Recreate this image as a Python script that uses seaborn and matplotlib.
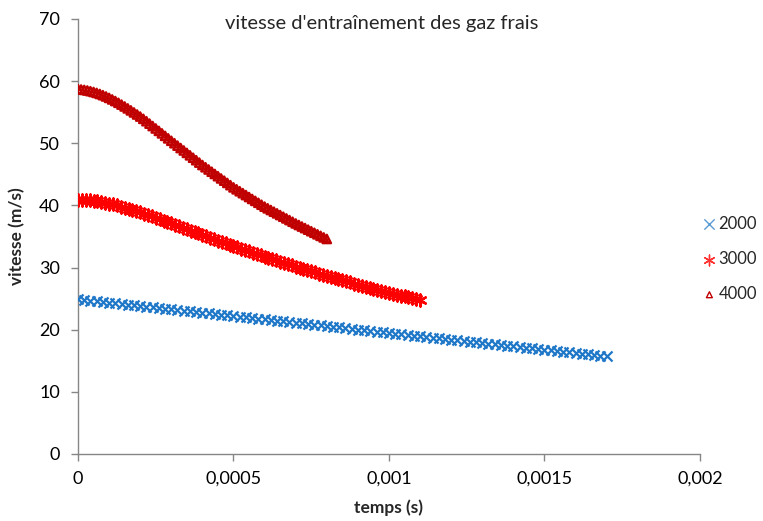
import numpy as np
import pandas as pd
import matplotlib
matplotlib.use("Agg")
import matplotlib.pyplot as plt
import seaborn as sns

# Entrainment velocity of the fresh gases (m/s) for three engine speeds (rpm)
v_2000 = [
    24.90, 24.79, 24.68, 24.58, 24.47, 24.36, 24.25, 24.14, 24.03, 23.93,
    23.82, 23.71, 23.60, 23.49, 23.39, 23.28, 23.17, 23.06, 22.95, 22.84,
    22.74, 22.63, 22.52, 22.41, 22.30, 22.20, 22.09, 21.98, 21.87, 21.76,
    21.65, 21.55, 21.44, 21.33, 21.22, 21.11, 21.00, 20.90, 20.79, 20.68,
    20.57, 20.46, 20.36, 20.25, 20.14, 20.03, 19.92, 19.81, 19.71, 19.60,
    19.49, 19.38, 19.27, 19.17, 19.06, 18.95, 18.84, 18.73, 18.62, 18.52,
    18.41, 18.30, 18.19, 18.08, 17.98, 17.87, 17.76, 17.65, 17.54, 17.43,
    17.33, 17.22, 17.11, 17.00, 16.89, 16.79, 16.68, 16.57, 16.46, 16.35,
    16.24, 16.14, 16.03, 15.92, 15.81, 15.70,
]
v_3000 = [
    40.90, 40.89, 40.86, 40.81, 40.75, 40.67, 40.58, 40.45, 40.30,
    40.15, 39.99, 39.82, 39.64, 39.46, 39.28, 39.09, 38.90,
    38.68, 38.46, 38.23, 38.00, 37.78, 37.55, 37.33, 37.10,
    36.87, 36.64, 36.41, 36.18, 35.95, 35.71, 35.48, 35.25,
    35.03, 34.80, 34.58, 34.35, 34.13, 33.90, 33.68, 33.45,
    33.24, 33.03, 32.81, 32.60, 32.39, 32.18, 31.96, 31.75,
    31.55, 31.35, 31.15, 30.95, 30.75, 30.55, 30.35, 30.15,
    29.96, 29.78, 29.59, 29.40, 29.21, 29.03, 28.84, 28.65,
    28.48, 28.30, 28.13, 27.95, 27.78, 27.60, 27.43, 27.25,
    27.09, 26.93, 26.76, 26.60, 26.44, 26.28, 26.11, 25.95,
    25.80, 25.65, 25.50, 25.35, 25.20, 25.05, 24.90, 24.75,
]
v_4000 = [
    58.70, 58.65, 58.58, 58.49, 58.38, 58.25, 58.10, 57.93, 57.74, 57.53, 57.30,
    57.05, 56.79, 56.51, 56.22, 55.92, 55.61, 55.29, 54.96, 54.63, 54.30,
    53.93, 53.55, 53.16, 52.77, 52.38, 51.99, 51.59, 51.19, 50.79, 50.40,
    50.01, 49.62, 49.23, 48.84, 48.45, 48.06, 47.67, 47.28, 46.89, 46.50,
    46.14, 45.78, 45.42, 45.06, 44.70, 44.34, 43.98, 43.62, 43.26, 42.90,
    42.59, 42.28, 41.97, 41.66, 41.35, 41.04, 40.73, 40.42, 40.11, 39.80,
    39.53, 39.26, 38.99, 38.72, 38.45, 38.18, 37.91, 37.64, 37.37, 37.10,
    36.85, 36.60, 36.35, 36.10, 35.85, 35.60, 35.35, 35.10, 34.85, 34.60,
]

# End of each record (s); samples are evenly spaced in time
t_end = {"2000": 0.0017, "3000": 0.0011, "4000": 0.0008}

x_ticks = [0, 0.0005, 0.001, 0.0015, 0.002]
x_tick_labels = ["0", "0,0005", "0,001", "0,0015", "0,002"]
y_ticks = [0, 10, 20, 30, 40, 50, 60, 70]

series = {"2000": v_2000, "3000": v_3000, "4000": v_4000}
frames = []
for name, vals in series.items():
    t = np.linspace(0, t_end[name], len(vals))
    frames.append(pd.DataFrame({"temps": t, "vitesse": vals, "regime": name}))
df = pd.concat(frames, ignore_index=True)

sns.set_theme(style="white")
plt.rcParams["font.family"] = ["Lato", "DejaVu Sans"]

fig = plt.figure(figsize=(7.63, 5.21), dpi=100)
ax = fig.add_axes([0.1022, 0.1286, 0.8152, 0.835])

styles = {
    "2000": dict(marker="x", color="#1F77C8", s=52, linewidth=1.6),
    "3000": dict(marker=(6, 2, 0), color="#FF0000", s=75, linewidth=1.7),
    "4000": dict(marker="^", facecolor="none", edgecolor="#C00000", s=36, linewidth=1.7),
}
for name in series:
    sub = df[df["regime"] == name]
    sns.scatterplot(data=sub, x="temps", y="vitesse", ax=ax, label=name,
                    zorder=3, **styles[name])

ax.set_xlim(0, 0.002)
ax.set_ylim(0, 70)
ax.set_xticks(x_ticks)
ax.set_xticklabels(x_tick_labels)
ax.set_yticks(y_ticks)
ax.grid(False)

axis_gray = "#868686"
for side in ["top", "right"]:
    ax.spines[side].set_visible(False)
for side in ["left", "bottom"]:
    ax.spines[side].set_color(axis_gray)
    ax.spines[side].set_linewidth(1.0)
ax.tick_params(axis="both", direction="out", length=5, width=1.0,
               color=axis_gray, labelsize=13, labelcolor="#000000",
               left=True, bottom=True)
ax.tick_params(axis="x", pad=7)
ax.tick_params(axis="y", pad=8)

ax.set_xlabel("temps (s)", fontsize=12.5, fontweight="bold", labelpad=9)
ax.set_ylabel("vitesse (m/s)", fontsize=12.5, fontweight="bold", labelpad=10)

fig.text(0.5, 0.955, "vitesse d'entraînement des gaz frais",
         ha="center", va="center", fontsize=14.5)

leg = ax.legend(loc="center left", bbox_to_anchor=(0.921, 0.503),
                bbox_transform=fig.transFigure, frameon=False,
                fontsize=12, handletextpad=0.15, labelspacing=1.15,
                handlelength=0.8, borderpad=0, borderaxespad=0)

# Lighter, thinner legend symbols
legend_marks = {"2000": ([55], "#5B9BD5"), "3000": ([60], "#FF3030"), "4000": ([18], "#C00000")}
for handle, text in zip(leg.legend_handles, leg.get_texts()):
    sizes, col = legend_marks[text.get_text()]
    handle.set_sizes(sizes)
    handle.set_linewidth(1.0)
    handle.set_edgecolor(col)

fig.savefig("out.png", dpi=100)
